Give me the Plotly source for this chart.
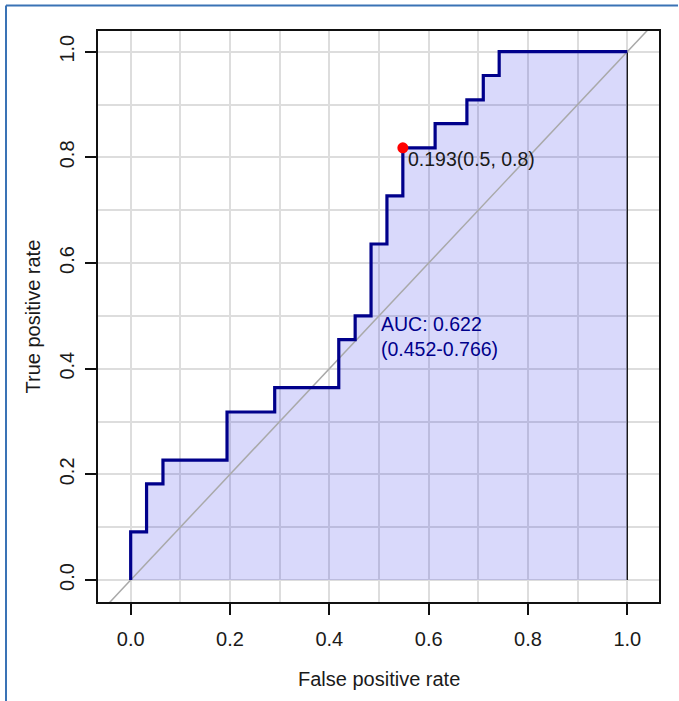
import plotly.graph_objects as go

# ROC step vertices (false positive rate, true positive rate)
fpr = [0.0, 0.0, 0.032, 0.065, 0.194, 0.290, 0.419, 0.452, 0.484, 0.516,
       0.548, 0.613, 0.677, 0.710, 0.742, 1.0]
tpr = [0.0, 0.091, 0.182, 0.227, 0.318, 0.364, 0.455, 0.500, 0.636, 0.727,
       0.818, 0.864, 0.909, 0.955, 1.0, 1.0]

best_fpr = [0.548]
best_tpr = [0.818]
best_label = "0.193(0.5, 0.8)"
auc_line1 = "AUC: 0.622"
auc_line2 = "(0.452-0.766)"

tick_vals = [0.0, 0.2, 0.4, 0.6, 0.8, 1.0]
tick_text = ["0.0", "0.2", "0.4", "0.6", "0.8", "1.0"]
diag = [-0.2, 1.2]

FONT = "Liberation Sans, Arial, sans-serif"
TXT = "#1a1a1a"
NAVY = "#00008B"
GRID = "#DDDDDD"

fig = go.Figure()

# AUC polygon
fig.add_trace(go.Scatter(
    x=fpr + [1.0], y=tpr + [0.0], mode="lines", line_shape="hv",
    fill="toself", fillcolor="rgba(0,0,225,0.15)",
    line=dict(color="#111111", width=1.3), hoverinfo="skip", showlegend=False))

# identity line
fig.add_trace(go.Scatter(
    x=diag, y=diag, mode="lines", line=dict(color="#A9A9A9", width=1.5),
    hoverinfo="skip", showlegend=False))

# ROC curve
fig.add_trace(go.Scatter(
    x=fpr, y=tpr, mode="lines", line_shape="hv",
    line=dict(color=NAVY, width=3.2), showlegend=False))

# best threshold point
fig.add_trace(go.Scatter(
    x=best_fpr, y=best_tpr, mode="markers",
    marker=dict(color="#FF0000", size=11), showlegend=False))

fig.add_annotation(x=best_fpr[0], y=best_tpr[0], text=best_label, showarrow=False,
                   xanchor="left", yanchor="top", xshift=3, yshift=2,
                   font=dict(family=FONT, size=19.5, color=TXT))
fig.add_annotation(x=0.5, y=0.5, text=auc_line1, showarrow=False,
                   xanchor="left", yanchor="top", yshift=5,
                   font=dict(family=FONT, size=19.5, color=NAVY))
fig.add_annotation(x=0.5, y=0.5, text=auc_line2, showarrow=False,
                   xanchor="left", yanchor="top", yshift=-20.5,
                   font=dict(family=FONT, size=19.5, color=NAVY))

# axis titles
fig.add_annotation(xref="paper", yref="paper", x=0.5, y=0, yshift=-77,
                   text="False positive rate", showarrow=False,
                   xanchor="center", yanchor="middle",
                   font=dict(family=FONT, size=20, color=TXT))
fig.add_annotation(xref="paper", yref="paper", x=0, y=0.5, xshift=-66,
                   text="True positive rate", showarrow=False, textangle=-90,
                   xanchor="center", yanchor="middle",
                   font=dict(family=FONT, size=20, color=TXT))

axis_common = dict(
    tickvals=tick_vals, ticktext=tick_text, showgrid=True, gridcolor=GRID,
    gridwidth=1.5, zeroline=False, showline=True, linecolor="#111111",
    linewidth=1.5, mirror=True, ticks="outside", ticklen=11, tickwidth=1.5,
    tickcolor="#111111", tickfont=dict(family=FONT, size=20, color=TXT),
    minor=dict(dtick=0.1, tick0=0, showgrid=True, gridcolor=GRID, gridwidth=1.5,
               ticks=""),
)

fig.update_xaxes(range=[-0.0658, 1.0638], ticklabelstandoff=7, **axis_common)
fig.update_yaxes(range=[-0.0416, 1.0392], tickangle=-90, ticklabelstandoff=3,
                 **axis_common)

# outer blue frame (left and top)
x_left = (6 - 98) / 561
y_top = (602 - 5.5) / 571
fig.add_shape(type="line", xref="paper", yref="paper", layer="above",
              x0=x_left, x1=x_left, y0=y_top, y1=(602 - 705) / 571,
              line=dict(color="#3a73b5", width=2))
fig.add_shape(type="line", xref="paper", yref="paper", layer="above",
              x0=x_left, x1=(678 - 98) / 561, y0=y_top, y1=y_top,
              line=dict(color="#3a73b5", width=2))

fig.update_layout(
    width=679, height=701,
    margin=dict(l=98, r=20, t=31, b=99),
    plot_bgcolor="white", paper_bgcolor="white",
    font=dict(family=FONT, color=TXT),
)

fig.write_html("out.html", config={"displayModeBar": False},
               post_script="document.body.style.margin='0';document.body.style.overflow='hidden';")
